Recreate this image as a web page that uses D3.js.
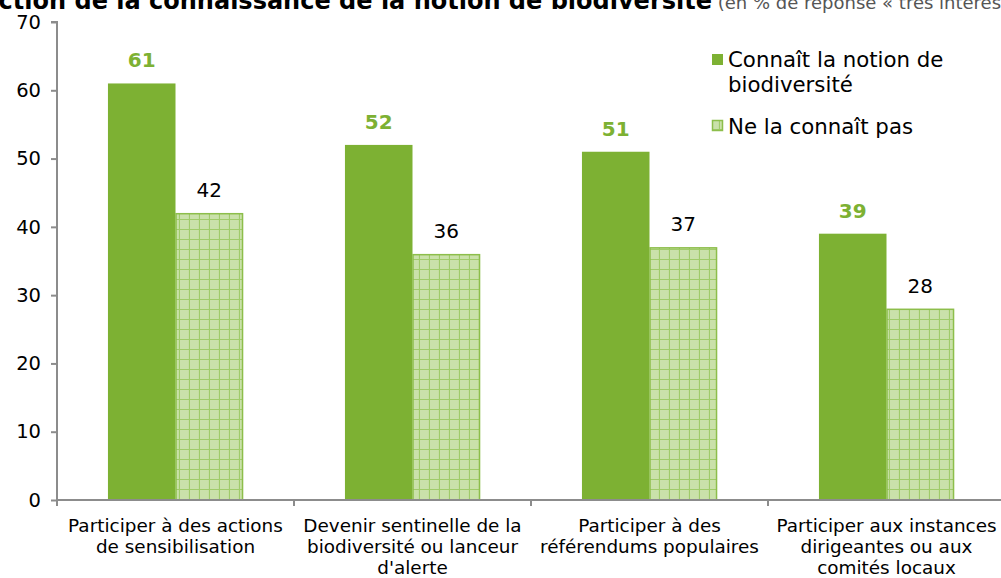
<!DOCTYPE html>
<html><head><meta charset="utf-8">
<script src="https://cdn.jsdelivr.net/npm/d3@7"></script>
<style>body{margin:0;background:#fff;} svg{display:block;font-family:"DejaVu Sans",Verdana,sans-serif;}</style>
</head><body><svg id="c" width="1001" height="578"></svg>
<script>
const categories = [
  ["Participer à des actions","de sensibilisation"],
  ["Devenir sentinelle de la","biodiversité ou lanceur","d'alerte"],
  ["Participer à des","référendums populaires"],
  ["Participer aux instances","dirigeantes ou aux","comités locaux"]
];
const seriesNames = ["Connaît la notion de biodiversité","Ne la connaît pas"];
const connait = [61,52,51,39];
const neConnaitPas = [42,36,37,28];
const yTicks = [0,10,20,30,40,50,60,70];
const titleBold = "En fonction de la connaissance de la notion de biodiversité";
const titleNormal = " (en % de réponse « très intéressé »)";

const W=1001,H=578;
const svg=d3.select("#c");
const green="#7DB133", axisCol="#8c8c8c";
const defs=svg.append("defs");
const pat=defs.append("pattern").attr("id","hatch").attr("patternUnits","userSpaceOnUse").attr("width",10).attr("height",10);
pat.append("rect").attr("width",10).attr("height",10).attr("fill","#CAE1AA");
pat.append("path").attr("d","M0,9.5H10M9.5,0V10").attr("stroke","#A0CB6A").attr("stroke-width",1.2);

const catIdx=d3.range(categories.length);
const x0=d3.scaleBand().domain(catIdx).range([57,1005]).padding(0);
const x1=d3.scaleBand().domain([0,1]).range([x0.bandwidth()*0.215,x0.bandwidth()*0.785]).padding(0);
const y=d3.scaleLinear().domain([0,70]).range([500,22]);

// title (cut off at the top, as in the reference)
const t=svg.append("text").attr("y",9).attr("font-size",24);
t.append("tspan").attr("font-weight","bold").text(titleBold);
t.append("tspan").attr("font-size",18).attr("fill","#555").text(titleNormal);
const bw=t.select("tspan").node().getComputedTextLength();
t.attr("x",712-bw);

// y axis
const yAxis=d3.axisLeft(y).tickValues(yTicks).tickSize(6).tickPadding(10);
const gy=svg.append("g").attr("transform","translate(57,0)").call(yAxis);
gy.select(".domain").attr("stroke",axisCol).attr("stroke-width",2).attr("d","M-6,22H0V500");
gy.selectAll(".tick line").attr("stroke",axisCol).attr("stroke-width",2);
gy.selectAll(".tick text").attr("font-size",19.5).attr("fill","#000").attr("font-family","DejaVu Sans");

// bars
const data=[connait,neConnaitPas];
const g=svg.append("g");
data.forEach((vals,si)=>{
  g.selectAll(".b"+si).data(vals).join("rect")
    .attr("x",(d,i)=>x0(i)+x1(si)+(si?0.5:0))
    .attr("y",d=>y(d)+(si?0.5:0))
    .attr("width",x1.bandwidth()-(si?1:0))
    .attr("height",d=>y(0)-y(d)-(si?0.5:0))
    .attr("fill",si?"url(#hatch)":green)
    .attr("stroke",si?"#8DBE4B":"none").attr("stroke-width",si?1.5:0);
  g.selectAll(".l"+si).data(vals).join("text")
    .attr("x",(d,i)=>x0(i)+x1(si)+x1.bandwidth()/2)
    .attr("y",d=>y(d)-16)
    .attr("text-anchor","middle")
    .attr("font-size",20)
    .attr("font-weight",si?"normal":"bold")
    .attr("fill",si?"#000":green)
    .text(d=>d);
});

// x axis
const gx=svg.append("g");
gx.append("path").attr("d","M57,500H1001").attr("stroke",axisCol).attr("stroke-width",2).attr("fill","none");
catIdx.forEach(i=>{
  gx.append("line").attr("x1",x0(i)).attr("x2",x0(i)).attr("y1",500).attr("y2",506).attr("stroke",axisCol).attr("stroke-width",2);
  const tx=gx.append("text").attr("text-anchor","middle").attr("font-size",18.4).attr("fill","#000");
  categories[i].forEach((line,k)=>tx.append("tspan").attr("x",x0(i)+x0.bandwidth()/2).attr("y",532+k*21).text(line));
});

// legend
const leg=svg.append("g");
leg.append("rect").attr("x",712).attr("y",54).attr("width",11).attr("height",11).attr("fill",green);
leg.append("rect").attr("x",712.5).attr("y",120.5).attr("width",10).attr("height",10).attr("fill","url(#hatch)").attr("stroke","#8DBE4B").attr("stroke-width",1.5);
const lt=leg.append("text").attr("font-size",21.3).attr("fill","#000");
lt.append("tspan").attr("x",728).attr("y",67).text("Connaît la notion de");
lt.append("tspan").attr("x",728).attr("y",92).text("biodiversité");
leg.append("text").attr("font-size",21.3).attr("x",728).attr("y",134).text(seriesNames[1]);
</script></body></html>
